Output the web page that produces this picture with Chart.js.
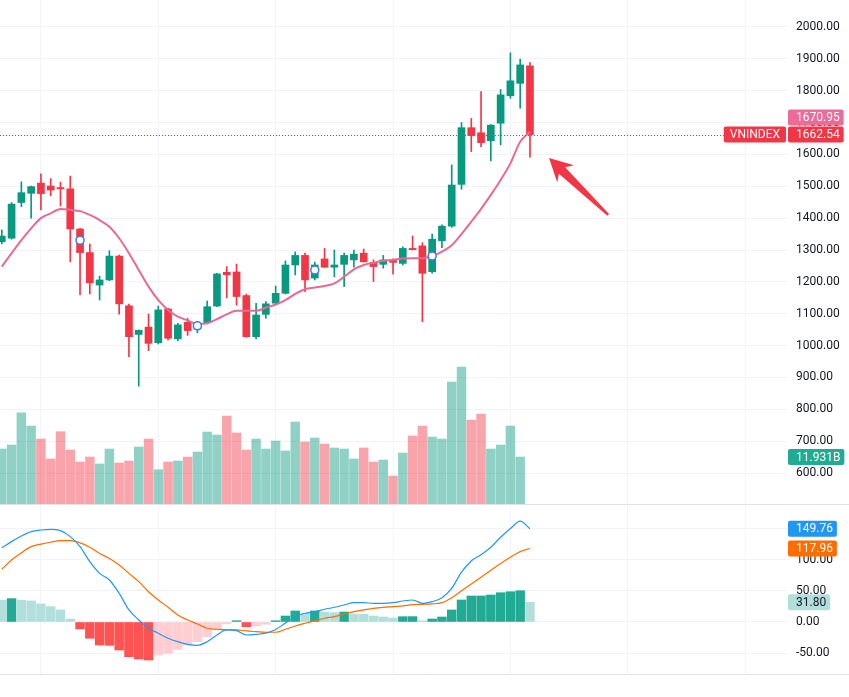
<!DOCTYPE html>
<html>
<head>
<meta charset="utf-8">
<script src="https://cdn.jsdelivr.net/npm/chart.js@4.4.0/dist/chart.umd.min.js"></script>
<style>
  html, body { margin: 0; padding: 0; background: #fff; }
  #wrap { position: relative; width: 849px; height: 697px; overflow: hidden; }
  #mainPane { position: absolute; left: 0; top: 0; }
  #sep { position: absolute; left: 0; top: 504px; width: 849px; height: 1px; background: #e0e3eb; }
  #macdPane { position: absolute; left: 0; top: 505px; }
</style>
</head>
<body>
<div id="wrap">
  <canvas id="mainPane" width="849" height="504"></canvas>
  <div id="sep"></div>
  <canvas id="macdPane" width="849" height="192"></canvas>
</div>
<script>
  // VNINDEX candles (index 0 = left edge)
  const openP  = [1326, 1337, 1449, 1478, 1510, 1501, 1496, 1492, 1366, 1292, 1190, 1206, 1281, 1125, 1035, 1058, 1009, 1115, 1021, 1073,
                  1052, 1072, 1124, 1230, 1231, 1157, 1028, 1098, 1133, 1164, 1253, 1283, 1212, 1272, 1246, 1255, 1269, 1290, 1261, 1255,
                  1269, 1258, 1305, 1313, 1232, 1329, 1375, 1506, 1684, 1668, 1643, 1698, 1784, 1823, 1878];
  const highP  = [1363, 1449, 1514, 1501, 1539, 1524, 1513, 1532, 1368, 1319, 1218, 1298, 1284, 1130, 1049, 1099, 1124, 1117, 1070, 1086,
                  1075, 1140, 1227, 1248, 1256, 1162, 1133, 1138, 1187, 1266, 1294, 1290, 1262, 1305, 1300, 1290, 1300, 1303, 1269, 1283,
                  1272, 1310, 1344, 1323, 1350, 1379, 1567, 1700, 1713, 1797, 1694, 1804, 1919, 1899, 1888];
  const lowP   = [1319, 1334, 1436, 1400, 1426, 1470, 1438, 1263, 1159, 1162, 1143, 1204, 1099,  965,  873,  984, 1005, 1018, 1015, 1032,
                  1040, 1068, 1122, 1150, 1127, 1026, 1021, 1086, 1131, 1162, 1222, 1169, 1206, 1245, 1216, 1185, 1246, 1262, 1201, 1243,
                  1224, 1253, 1300, 1075, 1227, 1307, 1371, 1491, 1609, 1624, 1580, 1630, 1776, 1745, 1591];
  const closeP = [1344, 1444, 1480, 1499, 1477, 1488, 1492, 1366, 1292, 1197, 1206, 1281, 1131, 1028, 1048, 1007, 1112, 1023, 1065, 1047,
                  1071, 1122, 1225, 1222, 1154, 1028, 1096, 1131, 1164, 1253, 1283, 1206, 1253, 1246, 1253, 1283, 1287, 1263, 1248, 1269,
                  1261, 1305, 1301, 1227, 1334, 1375, 1504, 1684, 1659, 1637, 1692, 1787, 1831, 1881, 1662.54];
  const maLine = [1248, 1290, 1331, 1368, 1400, 1415, 1429, 1426, 1422, 1410, 1394, 1373, 1337, 1290, 1237, 1185, 1143, 1112, 1091, 1079,
                  1068, 1070, 1083, 1098, 1109, 1109, 1109, 1119, 1129, 1143, 1162, 1177, 1182, 1187, 1195, 1216, 1239, 1253, 1260, 1266,
                  1269, 1273, 1274, 1274, 1281, 1295, 1315, 1350, 1389, 1429, 1473, 1520, 1572, 1640, 1670.95];
  // volume in billions; last week has no bar yet
  const volume = [13.96, 14.98, 23.18, 19.80, 16.50, 11.43, 18.36, 13.71, 10.66, 11.93, 10.16, 13.96, 10.41, 10.92, 14.47, 16.50, 8.71, 10.66, 10.92, 11.93,
                  13.20, 18.28, 17.52, 22.34, 18.03, 13.71, 16.50, 13.96, 16.00, 13.46, 20.82, 15.74, 16.76, 15.23, 14.22, 13.96, 11.43, 14.22, 10.66, 11.17,
                  7.11, 12.95, 17.27, 19.80, 17.01, 16.50, 30.98, 34.78, 21.33, 22.85, 13.96, 14.98, 19.80, 11.931, null];
  // MACD pane
  const macdLine = [119, 129, 138, 145, 147.7, 148.8, 146.6, 137, 121, 96.8, 78, 67.4, 46, 19.3, 3.2, -10, -18, -26, -31.6, -35.8,
                    -37.4, -31.6, -20.9, -12.8, -14, -20.9, -20, -18, -12, -1.6, 8.5, 14, 16.5, 20.4, 23.6, 27.3, 31, 31, 30, 30,
                    31, 33.7, 35.3, 30, 32.6, 39, 54, 80, 98, 108, 120, 136, 150, 162, 149.76];
  const signalLine = [84.6, 99.5, 111, 121, 125, 128, 130.5, 130.5, 127, 120, 110, 102, 91.5, 78, 64.7, 48.6, 35.3, 23.6, 11.2, 3.2,
                      -3.2, -10, -11.7, -12.8, -12.8, -14.4, -15.5, -16.5, -16.5, -11.7, -6.4, -2, 2, 6, 8.6, 12.8, 16.5, 19.3, 22, 23.6,
                      24.6, 26, 27.8, 28.4, 29, 31, 39, 50, 61, 72, 83, 94, 104, 113, 117.96];
  const histo = [35, 37.5, 35, 33.7, 29, 24.6, 19.3, 4.8, -11.2, -26.2, -37, -37.5, -45, -55.7, -59.4, -61, -53, -50, -43.8, -37,
                 -31.6, -23.5, -11.8, -2.7, 2, -7.5, -6.4, -3.7, 2, 9.6, 17.7, 13.9, 17.7, 16, 15, 16, 12.8, 12.5, 9.6, 8,
                 6.4, 8.5, 8.6, 2, 4.8, 8, 19.3, 35.3, 41.7, 41.8, 43.3, 47, 48.6, 50.2, 31.8];
  // event markers (blue circles)
  const markIdx = [8, 20, 32, 44];
  const markPrice = [1331, 1062, 1237, 1281];
  // axis ticks
  const priceTicks = [600, 700, 800, 900, 1000, 1100, 1200, 1300, 1400, 1500, 1600, 1700, 1800, 1900, 2000];
  const macdTicks = [-50, 0, 50, 100, 150];
  const timeGrid = [4, 16, 28, 40, 52, 64, 76];
  // hand-drawn arrow, in data units (candle index, price)
  const arrowTail = { x: 62.0, y: 1410 };
  const arrowTip = { x: 55.95, y: 1589 };

  const FONT = 'Roboto, "Liberation Sans", sans-serif';
  const UP = '#089981';
  const DOWN = '#f23645';
  const GRID = '#f0f3f8';
  const AXIS_W = 62;
  const X_MIN = -0.184;
  const X_MAX = 80.28;

  const dirUp = closeP.map((c, i) => c >= openP[i]);
  const candleColors = dirUp.map((u) => (u ? UP : DOWN));
  const volColors = dirUp.map((u) => (u ? 'rgba(8,153,129,0.45)' : 'rgba(242,54,69,0.45)'));
  const histColors = histo.map((h, i) => {
    const prev = i > 0 ? histo[i - 1] : h;
    if (h >= 0) return h > prev ? '#22ab94' : '#b2dfdb';
    return h < prev ? '#ff5252' : '#ffcdd2';
  });

  function pts(arr) {
    return arr.map((v, i) => ({ x: i, y: v }));
  }

  function noPad(s) {
    s.paddingTop = 0;
    s.paddingBottom = 0;
    s.paddingLeft = 0;
    s.paddingRight = 0;
  }

  function xScale() {
    return {
      type: 'linear', min: X_MIN, max: X_MAX, offset: false,
      grid: { color: GRID, drawTicks: false, offset: false },
      border: { display: false },
      ticks: { display: false },
      afterBuildTicks: (s) => { s.ticks = timeGrid.map((v) => ({ value: v })); },
      afterFit: noPad
    };
  }

  function yScale(min, max, ticks) {
    return {
      position: 'right', min, max,
      grid: { color: GRID, drawTicks: false },
      border: { display: false },
      ticks: { padding: 9, crossAlign: 'near', color: '#131722', font: { family: FONT, size: 12 }, callback: (v) => Number(v).toFixed(2) },
      afterBuildTicks: (s) => { s.ticks = ticks.map((v) => ({ value: v })); },
      afterFit: (s) => { s.width = AXIS_W; noPad(s); }
    };
  }

  function badge(ctx, x, yc, text, bg, fg, alignRight) {
    ctx.save();
    ctx.font = '12px ' + FONT;
    const w = ctx.measureText(text).width + 12;
    const left = alignRight ? x - w : x;
    ctx.fillStyle = bg;
    ctx.beginPath();
    ctx.roundRect(left, yc - 8, w, 16, 2);
    ctx.fill();
    ctx.fillStyle = fg;
    ctx.textBaseline = 'middle';
    ctx.textAlign = 'left';
    ctx.fillText(text, left + (alignRight ? 6 : 8), yc + 0.5);
    ctx.restore();
  }

  function drawArrow(ctx, tip, tail) {
    const dx = tail.x - tip.x;
    const dy = tail.y - tip.y;
    const len = Math.hypot(dx, dy);
    const ux = dx / len, uy = dy / len;
    const nx = -uy, ny = ux;
    const head = 23, wing = 12, neck = 4.5, end = 1.2;
    const bx = tip.x + ux * head, by = tip.y + uy * head;
    const kx = tip.x + ux * (head - 5), ky = tip.y + uy * (head - 5);
    ctx.save();
    ctx.fillStyle = '#f23645';
    ctx.beginPath();
    ctx.moveTo(tip.x, tip.y);
    ctx.lineTo(bx + nx * wing, by + ny * wing);
    ctx.lineTo(kx + nx * neck, ky + ny * neck);
    ctx.lineTo(tail.x + nx * end, tail.y + ny * end);
    ctx.lineTo(tail.x - nx * end, tail.y - ny * end);
    ctx.lineTo(kx - nx * neck, ky - ny * neck);
    ctx.lineTo(bx - nx * wing, by - ny * wing);
    ctx.closePath();
    ctx.fill();
    ctx.restore();
  }

  const mainOverlay = {
    id: 'mainOverlay',
    afterDraw(chart) {
      const { ctx, chartArea, scales } = chart;
      const last = closeP.length - 1;
      const yPrice = scales.y.getPixelForValue(closeP[last]);
      const axisX = chartArea.right + 1;

      // last price dotted line
      ctx.save();
      ctx.strokeStyle = DOWN;
      ctx.lineWidth = 1;
      ctx.setLineDash([1, 2]);
      ctx.beginPath();
      ctx.moveTo(chartArea.left, Math.round(yPrice) + 0.5);
      ctx.lineTo(chartArea.right - 56, Math.round(yPrice) + 0.5);
      ctx.stroke();
      ctx.restore();

      drawArrow(ctx,
        { x: scales.x.getPixelForValue(arrowTip.x), y: scales.y.getPixelForValue(arrowTip.y) },
        { x: scales.x.getPixelForValue(arrowTail.x), y: scales.y.getPixelForValue(arrowTail.y) });

      // value badges
      let yMa = scales.y.getPixelForValue(maLine[last]);
      if (Math.abs(yMa - yPrice) < 17) yMa = yPrice - 17;
      badge(ctx, axisX, yMa, maLine[last].toFixed(2), '#ec6b98', '#fff');
      badge(ctx, axisX, yPrice, closeP[last].toFixed(2), DOWN, '#fff');
      badge(ctx, chartArea.right - 1, yPrice, 'VNINDEX', DOWN, '#fff', true);

      let lv = volume.length - 1;
      while (lv > 0 && volume[lv] == null) lv--;
      badge(ctx, axisX, scales.vol.getPixelForValue(volume[lv]), volume[lv].toFixed(3) + 'B', '#22ab94', '#fff');
    }
  };

  const macdOverlay = {
    id: 'macdOverlay',
    afterDraw(chart) {
      const { ctx, chartArea, scales } = chart;
      const last = macdLine.length - 1;
      const axisX = chartArea.right + 1;
      ctx.save();
      ctx.strokeStyle = '#e0e3eb';
      ctx.beginPath();
      ctx.moveTo(0, Math.round(chartArea.bottom) + 0.5);
      ctx.lineTo(chart.width, Math.round(chartArea.bottom) + 0.5);
      ctx.stroke();
      ctx.restore();
      badge(ctx, axisX, scales.y.getPixelForValue(macdLine[last]), macdLine[last].toFixed(2), '#2196f3', '#fff');
      badge(ctx, axisX, scales.y.getPixelForValue(signalLine[last]), signalLine[last].toFixed(2), '#ff6d00', '#fff');
      badge(ctx, axisX, scales.y.getPixelForValue(histo[last]), histo[last].toFixed(2), '#b2dfdb', '#131722');
    }
  };

  Chart.defaults.font.family = FONT;

  new Chart(document.getElementById('mainPane'), {
    type: 'bar',
    data: {
      datasets: [
        { type: 'line', label: 'events', data: markIdx.map((x, k) => ({ x, y: markPrice[k] })), showLine: false,
          pointRadius: 4, pointBorderWidth: 1.5, pointBorderColor: '#3f7ddb', pointBackgroundColor: '#fff', yAxisID: 'y', order: 0 },
        { type: 'line', label: 'MA', data: pts(maLine), borderColor: '#e86a94', borderWidth: 2, pointRadius: 0,
          cubicInterpolationMode: 'monotone', yAxisID: 'y', order: 1 },
        { label: 'body', data: openP.map((o, i) => ({ x: i, y: [o, closeP[i]] })), backgroundColor: candleColors,
          barThickness: 7, minBarLength: 1, grouped: false, yAxisID: 'y', order: 2 },
        { label: 'wick', data: lowP.map((l, i) => ({ x: i, y: [l, highP[i]] })), backgroundColor: candleColors,
          barThickness: 1, grouped: false, yAxisID: 'y', order: 3 },
        { label: 'volume', data: pts(volume), backgroundColor: volColors, barThickness: 8.8, grouped: false, yAxisID: 'vol', order: 4 }
      ]
    },
    options: {
      responsive: false, animation: false, devicePixelRatio: 1,
      layout: { padding: 0, autoPadding: false },
      plugins: { legend: { display: false }, tooltip: { enabled: false } },
      scales: {
        x: xScale(),
        y: yScale(502.8, 2084.7, priceTicks),
        vol: { axis: 'y', position: 'right', display: false, min: 0, max: 128, ticks: { display: false }, afterFit: noPad }
      }
    },
    plugins: [mainOverlay]
  });

  new Chart(document.getElementById('macdPane'), {
    type: 'bar',
    data: {
      datasets: [
        { type: 'line', label: 'MACD', data: pts(macdLine), borderColor: '#2196f3', borderWidth: 1.2, pointRadius: 0,
          cubicInterpolationMode: 'monotone', order: 0 },
        { type: 'line', label: 'Signal', data: pts(signalLine), borderColor: '#ff6d00', borderWidth: 1.2, pointRadius: 0,
          cubicInterpolationMode: 'monotone', order: 1 },
        { label: 'Histogram', data: pts(histo), backgroundColor: histColors, barThickness: 8.8, grouped: false, order: 2 }
      ]
    },
    options: {
      responsive: false, animation: false, devicePixelRatio: 1,
      layout: { padding: { left: 0, right: 0, top: 0, bottom: 23 }, autoPadding: false },
      plugins: { legend: { display: false }, tooltip: { enabled: false } },
      scales: {
        x: xScale(),
        y: yScale(-83.5, 187.8, macdTicks)
      }
    },
    plugins: [macdOverlay]
  });
</script>
</body>
</html>
